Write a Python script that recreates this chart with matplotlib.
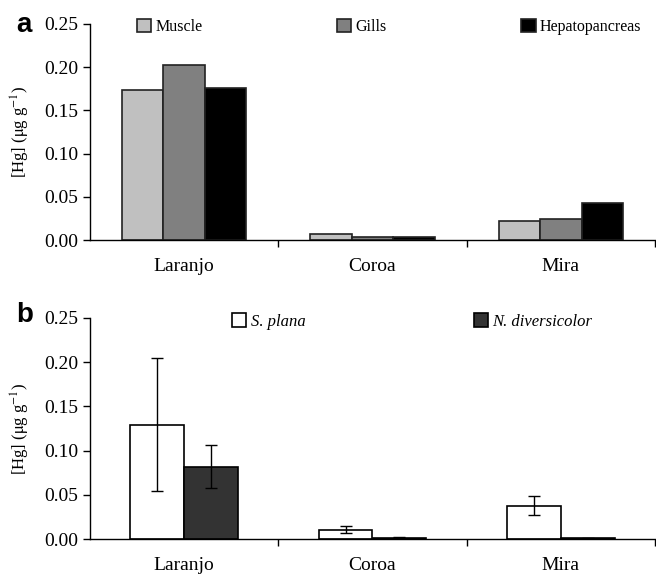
import matplotlib
matplotlib.use("Agg")
import matplotlib.pyplot as plt
import numpy as np

sites = ["Laranjo", "Coroa", "Mira"]

# Panel a: tissues
tissues = ["Muscle", "Gills", "Hepatopancreas"]
muscle = [0.174, 0.007, 0.022]
gills = [0.202, 0.003, 0.024]
hepato = [0.176, 0.003, 0.043]
tissue_colors = ["#c0c0c0", "#808080", "#000000"]

# Panel b: species
species = ["S. plana", "N. diversicolor"]
splana = [0.129, 0.011, 0.038]
splana_err = [0.075, 0.004, 0.0105]
ndiv = [0.082, 0.002, 0.001]
ndiv_err = [0.024, 0.001, 0.0007]
species_colors = ["#ffffff", "#333333"]

yticks = [0.00, 0.05, 0.10, 0.15, 0.20, 0.25]

plt.rcParams["font.family"] = ["Liberation Serif", "DejaVu Serif"]
plt.rcParams["mathtext.fontset"] = "stix"

fig = plt.figure(figsize=(6.56, 5.76), dpi=100)
axa = fig.add_axes([90/656, 1-240/576, 565/656, 216/576])
axb = fig.add_axes([90/656, 1-539.3/576, 565/656, 221.6/576])

def style(ax, label, label_y):
    ax.set_xlim(0, 3)
    ax.set_ylim(0, 0.25)
    ax.set_yticks(yticks)
    ax.set_yticklabels([f"{v:.2f}" for v in yticks], fontsize=14)
    ax.set_xticks([1, 2, 3])
    ax.set_xticklabels([])
    ax.set_xticks([0.5, 1.5, 2.5], minor=True)
    ax.set_xticklabels(sites, minor=True, fontsize=14)
    ax.tick_params(axis="x", which="minor", length=0, pad=13)
    ax.tick_params(axis="x", which="major", length=5, direction="out", width=1)
    ax.tick_params(axis="y", length=5, direction="out", width=1)
    for s in ["top", "right"]:
        ax.spines[s].set_visible(False)
    for s in ["left", "bottom"]:
        ax.spines[s].set_linewidth(1)
    ax.spines["bottom"].set_clip_on(False)
    ax.set_ylabel(r"[Hg] ($\mathrm{\mu}$g g$^{-1}$)", fontsize=12)
    ax.yaxis.set_label_coords(-0.103, 0.5)
    ax.text(-0.131, label_y, label, transform=ax.transAxes, fontsize=20,
            fontweight="bold", family="Liberation Sans", va="baseline", ha="left")

x = np.arange(len(sites)) + 0.5

# Panel a
wa = 0.22
for i, (vals, c) in enumerate(zip([muscle, gills, hepato], tissue_colors)):
    axa.bar(x + (i - 1) * wa, vals, width=wa, color=c, edgecolor="#222222",
            linewidth=1.2, label=tissues[i])
style(axa, "a", 0.963)
axa.legend(loc="upper left", bbox_to_anchor=(0.072, 1.055), ncol=3,
           frameon=False, fontsize=11.5, handlelength=0.88, handleheight=0.88,
           handletextpad=0.25, columnspacing=8.45, borderaxespad=0)

# Panel b
wb = 0.285
for i, (vals, errs, c) in enumerate(zip([splana, ndiv], [splana_err, ndiv_err], species_colors)):
    axb.bar(x + (i - 0.5) * wb, vals, width=wb, color=c, edgecolor="#000000",
            linewidth=1.2, yerr=errs, capsize=4,
            error_kw=dict(elinewidth=1, capthick=1, ecolor="black"),
            label=species[i])
style(axb, "b", 0.98)
axb.legend(loc="upper left", bbox_to_anchor=(0.24, 1.05), ncol=2,
           frameon=False, handlelength=0.85, handleheight=0.85,
           handletextpad=0.25, columnspacing=10.1, borderaxespad=0,
           prop=dict(style="italic", size=12))

fig.savefig("out.png", dpi=100)
